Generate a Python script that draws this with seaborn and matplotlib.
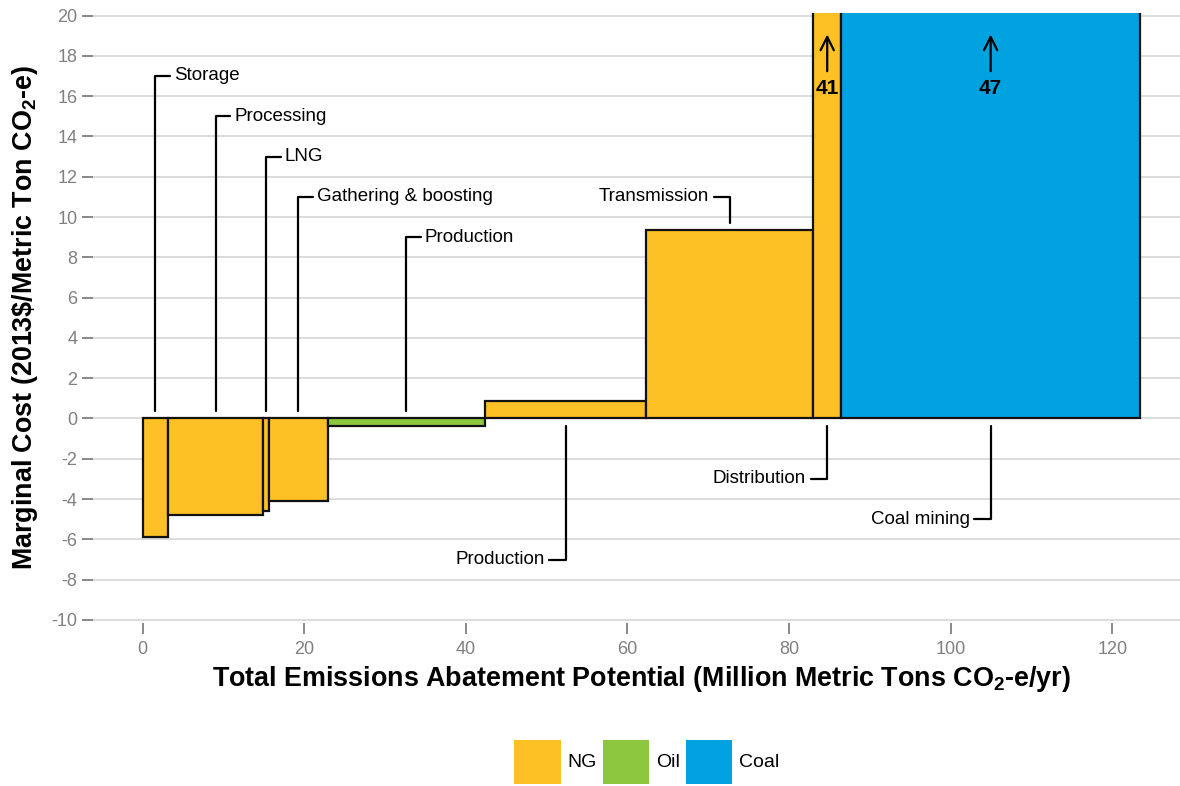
import numpy as np
import seaborn as sns
import matplotlib.pyplot as plt
from matplotlib.patches import Patch

sns.set_theme(style="whitegrid")
plt.rcParams['font.family'] = ['Liberation Sans', 'DejaVu Sans']
plt.rcParams['mathtext.fontset'] = 'custom'
plt.rcParams['mathtext.rm'] = 'Liberation Sans:bold'
plt.rcParams['mathtext.default'] = 'rm'
plt.rcParams['axes.unicode_minus'] = False
plt.rcParams['text.color'] = 'black'

# data
sectors = ["Storage", "Processing", "LNG", "Gathering & boosting", "Production",
           "Production", "Transmission", "Distribution", "Coal mining"]
fuels = ["NG", "NG", "NG", "NG", "Oil", "NG", "NG", "NG", "Coal"]
widths = [3.15, 11.75, 0.75, 7.25, 19.45, 20.0, 20.65, 3.45, 37.0]
costs = [-5.9, -4.8, -4.6, -4.1, -0.38, 0.85, 9.35, 41, 47]
fuel_order = ["NG", "Oil", "Coal"]
palette = {"NG": "#FDC125", "Oil": "#8DC63F", "Coal": "#00A3E0"}

lefts = np.concatenate([[0], np.cumsum(widths)[:-1]])
centers = lefts + np.array(widths) / 2

fig = plt.figure(figsize=(11.8, 7.86), dpi=100)
ax = fig.add_axes([92.8 / 1180, 163 / 786, 1097 / 1180, 610.5 / 786])

ax.bar(lefts, costs, width=widths, align="edge",
       color=[palette[f] for f in fuels], edgecolor="#111111", linewidth=1.6, zorder=3)

ax.set_xlim(-6.17, 129.6)
ax.set_ylim(-10.15, 20.15)
ax.set_xticks(range(0, 121, 20))
ax.set_yticks(range(-10, 21, 2))
ax.grid(axis="x", visible=False)
ax.grid(axis="y", color="#d9d9d9", linewidth=1.3)
for s in ax.spines.values():
    s.set_visible(False)
ax.tick_params(axis="both", colors="#7f7f7f", labelcolor="#808080", labelsize=13,
               length=8, width=1.3, direction="out", bottom=True, left=True)
ax.tick_params(axis="y", pad=3)
ax.tick_params(axis="x", pad=5)

ax.set_xlabel("Total Emissions Abatement Potential (Million Metric Tons CO$_2$-e/yr)",
              fontsize=19.4, fontweight="bold", color="black", labelpad=4)
ax.set_ylabel("Marginal Cost (2013$\\$$/Metric Ton CO$_2$-e)",
              fontsize=19.4, fontweight="bold", color="black", labelpad=8.5)

# leader labels: (index, top of leader)
lw = 1.6
fs = 13.5
up_labels = [(0, 17), (1, 15), (2, 13), (3, 11), (4, 9)]
for i, ytop in up_labels:
    xc = centers[i]
    ax.plot([xc, xc, xc + 1.8], [0.35, ytop, ytop], color="black", lw=lw, zorder=4)
    ax.text(xc + 2.3, ytop, sectors[i], fontsize=fs, va="center", ha="left", zorder=5)

# transmission label above, text to the left
xc = centers[6]
ax.plot([xc, xc, xc - 2.0], [costs[6] + 0.35, 11, 11], color="black", lw=lw, zorder=4)
ax.text(xc - 2.6, 11, sectors[6], fontsize=fs, va="center", ha="right", zorder=5)

# labels below the axis, text to the left
down_labels = [(5, -7), (7, -3), (8, -5)]
for i, ybot in down_labels:
    xc = centers[i]
    ax.plot([xc, xc, xc - 2.0], [-0.35, ybot, ybot], color="black", lw=lw, zorder=4)
    ax.text(xc - 2.6, ybot, sectors[i], fontsize=fs, va="center", ha="right", zorder=5)

# off-scale values
for i in [7, 8]:
    xc = centers[i]
    ax.annotate("", xy=(xc, 19.2), xytext=(xc, 17.1),
                arrowprops=dict(arrowstyle="->", color="black", lw=1.6, mutation_scale=24),
                zorder=6)
    ax.text(xc, 16.4, str(costs[i]), fontsize=15, fontweight="bold",
            ha="center", va="center", zorder=6)

handles = [Patch(facecolor=palette[f], edgecolor="none", label=f) for f in fuel_order]
fig.legend(handles=handles, loc="center", bbox_to_anchor=(0.548, 0.031), ncol=3,
           frameon=False, fontsize=14, handlelength=2.37, handleheight=3.1,
           handletextpad=0.36, columnspacing=0.3, borderaxespad=0.0, borderpad=0.0)

fig.savefig("out.png", dpi=100)
